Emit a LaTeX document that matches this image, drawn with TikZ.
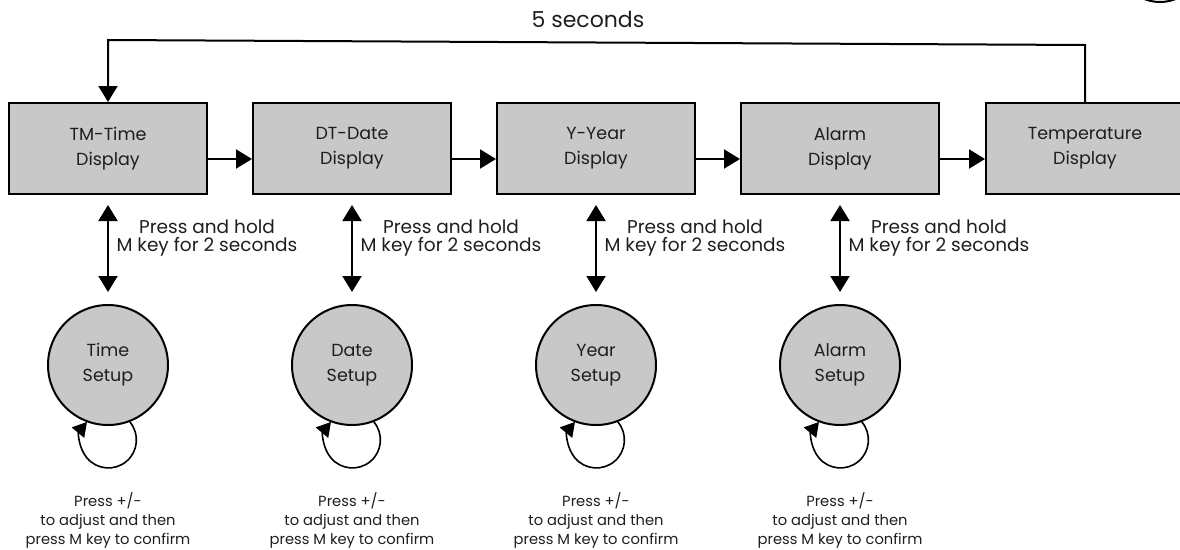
\documentclass[tikz,border=0pt]{standalone}
\usepackage{fontspec}
\setmainfont{Poppins}
\usetikzlibrary{arrows.meta}
\definecolor{boxgray}{HTML}{C8C8C8}
\definecolor{txt}{HTML}{1E1E1E}
\begin{document}
\begin{tikzpicture}[x=1pt,y=1pt,
  disp/.style={draw=black, line width=2pt, fill=boxgray, minimum width=198pt, minimum height=91pt,
    align=center, font=\fontsize{17.5}{25}\selectfont, text=txt, inner sep=0pt},
  setup/.style={circle, draw=black, line width=2pt, fill=boxgray, minimum size=120pt,
    align=center, font=\fontsize{17.5}{25}\selectfont, text=txt, inner sep=0pt},
  arr/.style={line width=2pt, -{Triangle[length=16pt,width=19pt]}},
  darr/.style={line width=2pt, {Triangle[length=16pt,width=19pt]}-{Triangle[length=16pt,width=19pt]}},
  selfloop/.style={line width=1.6pt, -{Triangle[length=14pt,width=16pt]}},
  holdlbl/.style={align=center, font=\fontsize{18.5}{18}\selectfont, text=txt, inner sep=0pt},
  adjlbl/.style={align=center, font=\fontsize{14.7}{19}\selectfont, text=txt, inner sep=0pt},
]
\useasboundingbox (0,0) rectangle (1180,-549);
\clip (0,0) rectangle (1180,-549);

% display boxes
\node[disp] (tm)   at (108,-148.5)  {TM-Time\\Display};
\node[disp] (dt)   at (352,-148.5)  {DT-Date\\Display};
\node[disp] (yr)   at (596,-148.5)  {Y-Year\\Display};
\node[disp] (al)   at (840,-148.5)  {Alarm\\Display};
\node[disp] (temp) at (1085,-148.5) {Temperature\\Display};

% setup circles
\node[setup] (ts) at (108,-365) {Time\\Setup};
\node[setup] (ds) at (352,-365) {Date\\Setup};
\node[setup] (ys) at (596,-365) {Year\\Setup};
\node[setup] (as) at (840,-365) {Alarm\\Setup};

% horizontal arrows
\foreach \a/\b in {tm/dt, dt/yr, yr/al, al/temp}
  \draw[arr] ([yshift=-10.5pt]\a.east) -- ([yshift=-10.5pt]\b.west);

% top feedback loop
\coordinate (tr) at (1085,-45);
\coordinate (tl) at (108,-40);
\draw[arr] (temp.north) -- (tr) -- (tl) -- (tm.north);
\node[font=\fontsize{22}{24}\selectfont, text=txt] (five) at (588,-19) {5 seconds};

% double arrows and labels
\foreach \d/\s in {tm/ts, dt/ds, yr/ys, al/as}{
  \draw[darr] ([yshift=-10pt]\d.south) -- ([yshift=12pt]\s.north);
  \node[holdlbl] (h\s) at ([xshift=99pt,yshift=-43pt]\d.south) {Press and hold\\M key for 2 seconds};
  \draw[selfloop] (\s.-69) arc[start angle=40, end angle=-220, radius=28];
  \node[adjlbl] (p\s) at ([yshift=-155pt]\s.center) {Press +/-\\to adjust and then\\press M key to confirm};
}

% fragment at the top right corner
\draw[line width=2pt] (1160,40) circle[radius=42];
\end{tikzpicture}
\end{document}
